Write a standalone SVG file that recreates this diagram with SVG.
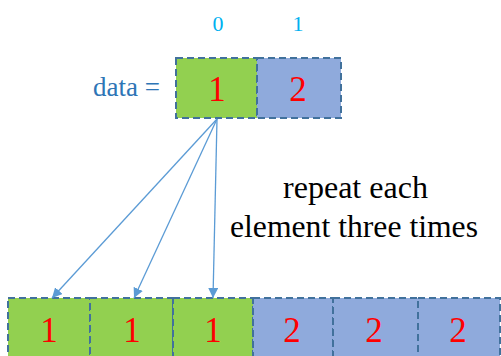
<svg xmlns="http://www.w3.org/2000/svg" width="501" height="356" viewBox="0 0 501 356">
<defs>
<marker id="ah" viewBox="0 0 10 10" refX="10" refY="5" markerWidth="10" markerHeight="10" markerUnits="userSpaceOnUse" orient="auto">
<path d="M0,0 L10,5 L0,10 z" fill="#5B9BD5"/>
</marker>
</defs>
<rect width="501" height="356" fill="#fff"/>
<text x="212.5" y="31" font-family="Liberation Serif" font-size="22" fill="#00B0F0">0</text>
<text x="292.5" y="31" font-family="Liberation Serif" font-size="22" fill="#00B0F0">1</text>
<text x="93" y="96" font-family="Liberation Serif" font-size="27" fill="#2E75B6">data =</text>
<g id="src0"><rect fill="#92D050" stroke="#41719C" stroke-width="2" stroke-dasharray="7,4" x="176" y="58" width="81" height="60"/><text x="208.25" y="101" font-family="Liberation Serif" font-size="35" fill="#FF0000">1</text></g>
<g id="src1"><rect fill="#8FAADC" stroke="#41719C" stroke-width="2" stroke-dasharray="7,4" x="257" y="58" width="84" height="60"/><text x="289.25" y="101" font-family="Liberation Serif" font-size="35" fill="#FF0000">2</text></g>
<g id="dst0"><rect fill="#92D050" stroke="#41719C" stroke-width="2" stroke-dasharray="7,4" x="8" y="298" width="82" height="66"/><text x="40.25" y="342" font-family="Liberation Serif" font-size="35" fill="#FF0000">1</text></g>
<g id="dst1"><rect fill="#92D050" stroke="#41719C" stroke-width="2" stroke-dasharray="7,4" x="90" y="298" width="83" height="66"/><text x="123.25" y="342" font-family="Liberation Serif" font-size="35" fill="#FF0000">1</text></g>
<g id="dst2"><rect fill="#92D050" stroke="#41719C" stroke-width="2" stroke-dasharray="7,4" x="173" y="298" width="80" height="66"/><text x="204.25" y="342" font-family="Liberation Serif" font-size="35" fill="#FF0000">1</text></g>
<g id="dst3"><rect fill="#8FAADC" stroke="#41719C" stroke-width="2" stroke-dasharray="7,4" x="253" y="298" width="80" height="66"/><text x="283.25" y="342" font-family="Liberation Serif" font-size="35" fill="#FF0000">2</text></g>
<g id="dst4"><rect fill="#8FAADC" stroke="#41719C" stroke-width="2" stroke-dasharray="7,4" x="333" y="298" width="85" height="66"/><text x="365.25" y="342" font-family="Liberation Serif" font-size="35" fill="#FF0000">2</text></g>
<g id="dst5"><rect fill="#8FAADC" stroke="#41719C" stroke-width="2" stroke-dasharray="7,4" x="418" y="298" width="82" height="66"/><text x="449.25" y="342" font-family="Liberation Serif" font-size="35" fill="#FF0000">2</text></g>
<text x="283" y="198" font-family="Liberation Serif" font-size="31" fill="#000" textLength="145" lengthAdjust="spacingAndGlyphs">repeat each</text>
<text x="230" y="237" font-family="Liberation Serif" font-size="31" fill="#000" textLength="248" lengthAdjust="spacingAndGlyphs">element three times</text>
<g id="connectors" stroke="#5B9BD5" stroke-width="1.3" fill="none" marker-end="url(#ah)">
<line x1="217" y1="119" x2="52" y2="298"/>
<line x1="217" y1="119" x2="134" y2="298"/>
<line x1="217" y1="119" x2="213" y2="298"/>
</g>
</svg>
